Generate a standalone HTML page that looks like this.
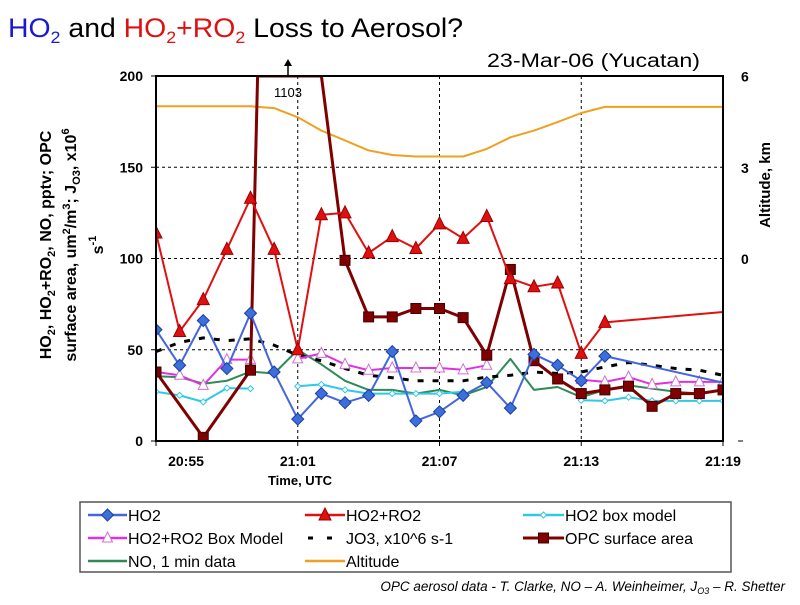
<!DOCTYPE html>
<html><head><meta charset="utf-8"><style>
body{margin:0;background:#fff;width:800px;height:600px;overflow:hidden;font-family:"Liberation Sans",sans-serif}
svg text{font-family:"Liberation Sans",sans-serif}
</style></head><body>
<svg id="chart" width="800" height="600">
<text x="8" y="37" font-size="27" textLength="455" lengthAdjust="spacingAndGlyphs"><tspan fill="#1a1acc">HO<tspan font-size="17" dy="6">2</tspan><tspan dy="-6"> </tspan></tspan><tspan fill="#000">and </tspan><tspan fill="#e01010">HO<tspan font-size="17" dy="6">2</tspan><tspan dy="-6">+RO</tspan><tspan font-size="17" dy="6">2</tspan></tspan><tspan dy="-6" fill="#000"> Loss to Aerosol?</tspan></text>
<text x="487" y="67" font-size="19" textLength="213" lengthAdjust="spacingAndGlyphs">23-Mar-06 (Yucatan)</text>
<g id="grid"></g>
<g id="plot" clip-path="url(#clip)"></g>
<defs><clipPath id="clip"><rect x="156" y="76" width="567" height="365"/></clipPath></defs>
<rect x="156" y="76" width="567" height="365" fill="none" stroke="#000" stroke-width="2"/>
<g id="axes"></g>
<g><line x1="288" y1="76" x2="288" y2="64" stroke="#000" stroke-width="1.5"/><polygon points="284,66 292,66 288,59" fill="#000"/><text x="288" y="97" font-size="13" text-anchor="middle">1103</text></g>
<text x="300" y="485" font-size="13" font-weight="bold" text-anchor="middle">Time, UTC</text>
<text transform="translate(51,245) rotate(-90)" font-size="16" font-weight="bold" text-anchor="middle"><tspan x="0" dy="0">HO<tspan font-size="11" dy="4">2</tspan><tspan dy="-4">, HO</tspan><tspan font-size="11" dy="4">2</tspan><tspan dy="-4">+RO</tspan><tspan font-size="11" dy="4">2</tspan><tspan dy="-4">, NO, pptv; OPC</tspan></tspan><tspan x="0" dy="25">surface area, um<tspan font-size="11" dy="-6">2</tspan><tspan dy="6">/m</tspan><tspan font-size="11" dy="-6">3</tspan><tspan dy="6">; J</tspan><tspan font-size="11" dy="4">O3</tspan><tspan dy="-4">, x10</tspan><tspan font-size="11" dy="-7">6</tspan></tspan><tspan x="0" dy="34">s<tspan font-size="11" dy="-7">-1</tspan></tspan></text>
<text transform="translate(770,185) rotate(-90)" font-size="15" font-weight="bold" text-anchor="middle">Altitude, km</text>
<rect x="80" y="502" width="651" height="70" fill="#fff" stroke="#555" stroke-width="1.5"/>
<g id="legend" font-size="16"></g>
<text x="785" y="591" font-size="13.5" font-style="italic" text-anchor="end">OPC aerosol data - T. Clarke, NO – A. Weinheimer, J<tspan font-size="9" dy="3">O3</tspan><tspan dy="-3"> – R. Shetter</tspan></text>
</svg>
<script>
const minutes=[0,1,2,3,4,5,6,7,8,9,10,11,12,13,14,15,16,17,18,19,20,21,22,23,24];
const ho2=[61,41.5,66,39.7,70,37.8,12,26,21,25,49,11,16,25,32,18,47.5,41.5,33,46.5,null,null,null,null,32];
const ho2ro2=[114,60,77.5,105,133,105,50,124,125,103,112,105.5,119,111,123,89,84.5,86.6,48,65,null,null,null,null,70.7];
const ho2box=[27,25,21.4,29,28.7,null,30,31,28,26,26,26,26,27,null,null,null,null,22.3,22,24,22,22,22,22];
const ho2ro2box=[37.8,36,30.5,44.6,44.6,null,45,48,42,38.8,40,40,40,39,41.5,null,null,null,33.6,32.4,35,31,32.4,32.4,32.4];
const jo3=[49,54,56.5,55,56,52.5,47,44,39.7,36,34.7,33,33,33,35,36,37.8,37,37.8,40.6,43,41.5,39.7,38.8,36];
const noData=[35.5,35,31.4,33,38,37,50,42,33,28,28,26,28,25,29.6,45,28,29.6,24,28,30.5,28.7,27,26,28];
const altitude=[5.02,5.02,5.02,5.02,5.02,4.96,4.66,4.22,3.9,3.57,3.42,3.37,3.37,3.37,3.62,4.0,4.22,4.5,4.8,5.0,5.0,5.0,5.0,5.0,5.0];
const opcT=[0,2,4,4.3,7,8,9,10,11,12,13,14,15,16,17,18,19,20,21,22,23,24];
const opc=[37.8,2,38.8,1103,1103,99,68,68,72.6,72.6,67.6,47,94,44,34,26,28,30,19,26,26,28];
const yTicks=[0,50,100,150,200];
const y2Ticks=[6,3,0];
const xTicks=[0,6,12,18,24];
const xLabels=["20:55","21:01","21:07","21:13","21:19"];
const NS="http://www.w3.org/2000/svg";
const X=t=>156+t*(567/24), Y=v=>441-v*(365/200), Y2=v=>259-v*(182.5/6);
function mk(tag,at,parent){const e=document.createElementNS(NS,tag);for(const k in at)e.setAttribute(k,at[k]);parent.appendChild(e);return e;}
const plot=document.getElementById('plot'),grid=document.getElementById('grid'),axes=document.getElementById('axes'),leg=document.getElementById('legend');
[50,100,150].forEach(v=>{const l=mk('line',{x1:156,x2:723,y1:Y(v),y2:Y(v),stroke:'#000','stroke-dasharray':'3,3','stroke-width':1},grid);

});
[6,12,18].forEach(t=>{const l=mk('line',{x1:X(t),x2:X(t),y1:76,y2:441,stroke:'#000','stroke-dasharray':'3,3','stroke-width':1},grid);

});
yTicks.forEach(v=>{mk('line',{x1:151,x2:156,y1:Y(v),y2:Y(v),stroke:'#000'},axes);const t=mk('text',{x:143,y:Y(v)+5,'font-size':14,'font-weight':'bold','text-anchor':'end'},axes);t.textContent=v;

});
y2Ticks.forEach(v=>{const t=mk('text',{x:741,y:Y2(v)+5,'font-size':14,'font-weight':'bold'},axes);t.textContent=v;

});
mk('line',{x1:738,x2:743,y1:441,y2:441,stroke:'#000'},axes);
xTicks.forEach((t,i)=>{mk('line',{x1:X(t),x2:X(t),y1:441,y2:446,stroke:'#000'},axes);const e=mk('text',{x:X(t)+(i==0?30:0),y:466,'font-size':14,'font-weight':'bold','text-anchor':'middle'},axes);e.textContent=xLabels[i];

});
function path(ts,vs,yf,clamp,connect){let d='',pen=false;ts.forEach((t,i)=>{const v=vs[i];if(v==null){if(!connect)pen=false;return;}const vv=clamp?Math.min(v,200):v;d+=(pen?'L':'M')+X(t).toFixed(1)+','+yf(vv).toFixed(1);pen=true;});return d;}
function marker(type,x,y,col,par){
 if(type=='diamond')return mk('polygon',{points:`${x},${y-6} ${x+6},${y} ${x},${y+6} ${x-6},${y}`,fill:'#3d6fdc',stroke:'#1c3fa0'},par);
 if(type=='tri')return mk('polygon',{points:`${x},${y-7} ${x+6},${y+5} ${x-6},${y+5}`,fill:'#e01010',stroke:'#900'},par);
 if(type=='otri')return mk('polygon',{points:`${x},${y-6} ${x+5},${y+4} ${x-5},${y+4}`,fill:'#fff',stroke:'#d070d0'},par);
 if(type=='sq')return mk('rect',{x:x-5,y:y-5,width:10,height:10,fill:'#800000',stroke:'#400'},par);
 if(type=='small')return mk('polygon',{points:`${x},${y-3} ${x+3},${y} ${x},${y+3} ${x-3},${y}`,fill:'#fff',stroke:'#30c8e8'},par);
}
const series=[
 {n:'altitude-line',ts:minutes,v:altitude,y:Y2,c:'#f0a020',w:2},
 {n:'no-line',ts:minutes,v:noData,y:Y,c:'#2e8b57',w:2},
 {n:'jo3-line',ts:minutes,v:jo3,y:Y,c:'#000',w:3,dash:'6,9'},
 {n:'ho2-box-line',ts:minutes,v:ho2box,y:Y,c:'#30c8e8',w:2,m:'small'},
 {n:'ho2ro2-box-line',ts:minutes,v:ho2ro2box,y:Y,c:'#e030e0',w:2,m:'otri'},
 {n:'opc-line',ts:opcT,v:opc,y:Y,c:'#800000',w:3,m:'sq',clamp:true},
 {n:'ho2ro2-line',ts:minutes,v:ho2ro2,y:Y,c:'#e01010',w:2,m:'tri',connect:true},
 {n:'ho2-line',ts:minutes,v:ho2,y:Y,c:'#4466dd',w:2,m:'diamond',connect:true}];
series.forEach(s=>{const p=mk('path',{d:path(s.ts,s.v,s.y,s.clamp,s.connect),fill:'none',stroke:s.c,'stroke-width':s.w,'stroke-linejoin':'round'},plot);if(s.dash)p.setAttribute('stroke-dasharray',s.dash);


 if(s.m)s.ts.forEach((t,i)=>{const v=s.v[i];if(v==null||v>200)return;if(s.connect&&i==24)return;const m=marker(s.m,X(t),s.y(v),s.c,plot);
 
 });});
const items=[
 ['HO2','#4466dd','diamond',88,521,128],['HO2+RO2','#e01010','tri',305,521,346],['HO2 box model','#30c8e8','small',523,521,565],
 ['HO2+RO2 Box Model','#e030e0','otri',88,544,128],['JO3, x10^6 s-1','#000','dash',305,544,346],['OPC surface area','#800000','sq',523,544,565],
 ['NO, 1 min data','#2e8b57',null,88,567,128],['Altitude','#f0a020',null,305,567,346]];
items.forEach(it=>{const g=mk('g',{},leg);
 
 
 const [lab,c,m,x0,y,tx]=it;
 if(m=='dash'){mk('line',{x1:x0+3,x2:x0+36,y1:y-6,y2:y-6,stroke:c,'stroke-width':3,'stroke-dasharray':'5,14'},g);}
 else mk('line',{x1:x0,x2:tx-1,y1:y-6,y2:y-6,stroke:c,'stroke-width':m=='sq'?3:2.5},g);
 if(m&&m!='dash')marker(m,(x0+tx-1)/2,y-6,c,g);
 const t=mk('text',{x:tx,y:y,'font-size':16},g);t.textContent=lab;});
</script>
</body></html>
